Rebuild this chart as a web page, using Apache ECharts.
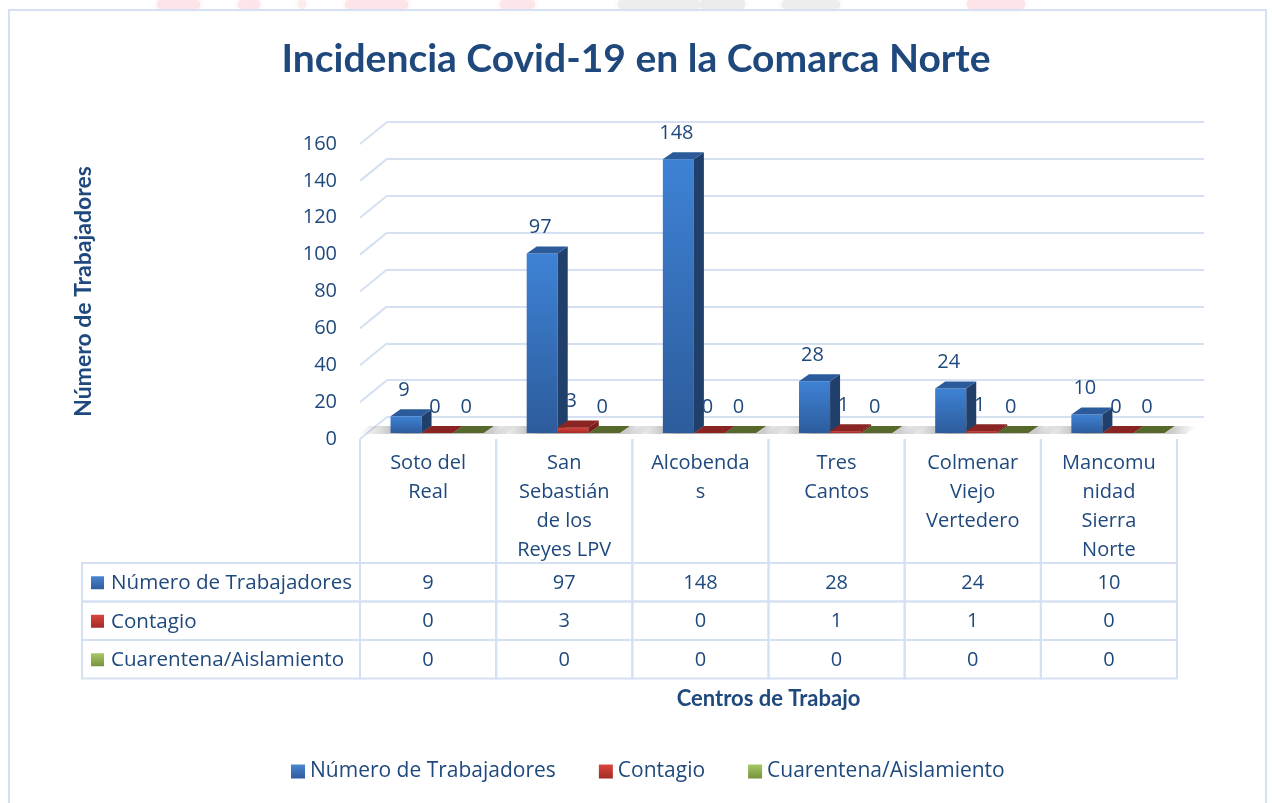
<!DOCTYPE html>
<html>
<head>
<meta charset="utf-8">
<title>Incidencia Covid-19 en la Comarca Norte</title>
<script src="https://cdn.jsdelivr.net/npm/echarts@6.0.0/dist/echarts.min.js"></script>
<style>
html, body { margin: 0; padding: 0; background: #fff; }
#main { width: 1272px; height: 803px; }
</style>
</head>
<body>
<div id="main"></div>
<script>
// datos
var centros = ['Soto del\nReal', 'San\nSebastián\nde los\nReyes LPV', 'Alcobenda\ns', 'Tres\nCantos', 'Colmenar\nViejo\nVertedero', 'Mancomu\nnidad\nSierra\nNorte'];
var trabajadores = [9, 97, 148, 28, 24, 10];
var contagio = [0, 3, 0, 1, 1, 0];
var cuarentena = [0, 0, 0, 0, 0, 0];
var nombres = ['Número de Trabajadores', 'Contagio', 'Cuarentena/Aislamiento'];
var ticksY = [0, 20, 40, 60, 80, 100, 120, 140, 160];

var azul = '#1F497D';
var fuente = '"Open Sans", Lato, sans-serif';
var fuenteB = 'Lato, "Open Sans", sans-serif';
var linea = '#D5E1F2';

// colores de las caras de cada serie
var caras = [
    { front: ['#3E82D5', '#2D5C9C'], side: '#213F6B', top: '#2B5B9A', leg: ['#4A86D0', '#2D5C9C'] },
    { front: ['#D4453C', '#A82B27'], side: '#7A1D1B', top: '#8A2422', leg: ['#D9483F', '#A32A26'] },
    { front: ['#A3C45E', '#76923C'], side: '#4A5D24', top: '#56692B', leg: ['#A6C865', '#77933D'] }
];
var series_datos = [trabajadores, contagio, cuarentena];

function grad(c) {
    return new echarts.graphic.LinearGradient(0, 0, 0, 1, [{ offset: 0, color: c[0] }, { offset: 1, color: c[1] }]);
}

var DX = 10, DY = -7;   // profundidad de las barras

function barra(si) {
    return function (params, api) {
        var c = api.value(0), v = api.value(1);
        var p0 = api.coord([c, 0]), p1 = api.coord([c, v]);
        var banda = api.size([1, 0])[0];
        var bw = banda * 0.228;
        var x0 = p0[0] - 1.5 * bw + si * bw, x1 = x0 + bw;
        var yb = p0[1], yt = p1[1];
        var col = caras[si];
        var kids = [];
        if (yb - yt > 0.5) {
            kids.push({ type: 'rect', shape: { x: x0, y: yt, width: bw, height: yb - yt }, style: { fill: grad(col.front) } });
            kids.push({ type: 'polygon', shape: { points: [[x1, yb], [x1, yt], [x1 + DX, yt + DY], [x1 + DX, yb + DY]] }, style: { fill: col.side } });
        }
        kids.push({ type: 'polygon', shape: { points: [[x0, yt], [x1, yt], [x1 + DX, yt + DY], [x0 + DX, yt + DY]] }, style: { fill: col.top } });
        kids.push({
            type: 'text',
            style: { text: String(v), x: (x0 + x1) / 2 - 2, y: yt + DY - 19, align: 'center', verticalAlign: 'middle', fill: azul, font: '20px ' + fuente }
        });
        return { type: 'group', children: kids };
    };
}

// sombra en el suelo bajo cada grupo
function sombra(params, api) {
    var c = api.value(0);
    var p0 = api.coord([c, 0]);
    var banda = api.size([1, 0])[0];
    var bw = banda * 0.228;
    var xa = p0[0] - 1.5 * bw - 32, xb = p0[0] + 1.5 * bw + 22;
    var yb = p0[1] + 1;
    return {
        type: 'polygon',
        shape: { points: [[xa, yb], [xb, yb], [xb + DX, yb + DY - 1], [xa + DX, yb + DY - 1]] },
        style: {
            fill: new echarts.graphic.LinearGradient(0, 0, 1, 0, [
                { offset: 0, color: 'rgba(140,140,140,0)' },
                { offset: 0.3, color: 'rgba(90,90,90,0.55)' },
                { offset: 0.85, color: 'rgba(110,110,110,0.35)' },
                { offset: 1, color: 'rgba(140,140,140,0)' }
            ])
        }
    };
}

// diagonales de la pared izquierda
function diagonal(params, api) {
    var cs = params.coordSys;
    var y = api.coord([0, api.value(1)])[1];
    return {
        type: 'line',
        shape: { x1: cs.x, y1: y, x2: cs.x + 27, y2: y - 22 },
        style: { stroke: linea, lineWidth: 2 }
    };
}

// tabla de datos
var filasTabla = [];
series_datos.forEach(function (arr, r) {
    arr.forEach(function (v, c) { filasTabla.push([c, r, v]); });
});

function celda(params, api) {
    var c = api.value(0), r = api.value(1), v = api.value(2);
    var cs = params.coordSys;
    var xc = api.coord([c, 0])[0];
    var w = api.size([1, 0])[0];
    var base = cs.y + cs.height;
    var y0 = base + 124 + r * 38.5, h = 38.5;
    var kids = [
        { type: 'rect', shape: { x: xc - w / 2, y: y0, width: w, height: h }, style: { fill: 'none', stroke: linea, lineWidth: 2 } },
        { type: 'text', style: { text: String(v), x: xc, y: y0 + h / 2 + 1, align: 'center', verticalAlign: 'middle', fill: azul, font: '20px ' + fuente } }
    ];
    if (r === 0) {
        kids.push({ type: 'line', shape: { x1: xc - w / 2, y1: base, x2: xc - w / 2, y2: y0 }, style: { stroke: linea, lineWidth: 2 } });
        kids.push({ type: 'line', shape: { x1: xc + w / 2, y1: base, x2: xc + w / 2, y2: y0 }, style: { stroke: linea, lineWidth: 2 } });
    }
    if (c === 0) {
        kids.push({ type: 'rect', shape: { x: 82, y: y0, width: cs.x - 82, height: h }, style: { fill: 'none', stroke: linea, lineWidth: 2 } });
        kids.push({ type: 'rect', shape: { x: 91, y: y0 + h / 2 - 6, width: 13, height: 13 }, style: { fill: grad(caras[r].leg) } });
        kids.push({ type: 'text', style: { text: nombres[r], x: 111, y: y0 + h / 2 + 1, align: 'left', verticalAlign: 'middle', fill: azul, font: '20.6px ' + fuente } });
    }
    return { type: 'group', children: kids };
}

var chart = echarts.init(document.getElementById('main'));

var ejeY = function (extra) {
    return Object.assign({ type: 'value', min: 0, max: 160, interval: 20 }, extra);
};

// restos de la marca de agua sobre el borde
var marcaAgua = [
    [157, 43, '#FDE4E9'], [238, 22, '#FDE4E9'], [298, 8, '#FDEBEE'], [345, 63, '#FDE4E9'],
    [500, 35, '#FDE6EA'], [618, 82, '#EDEDED'], [700, 45, '#EBEBEB'], [782, 58, '#EDEDED'], [967, 58, '#FDE2E7']
];

var option = {
    backgroundColor: '#fff',
    animation: false,
    title: {
        text: 'Incidencia Covid-19 en la Comarca Norte',
        left: 'center', top: 35,
        textStyle: { fontSize: 39, fontWeight: 'bold', color: azul, fontFamily: fuenteB }
    },
    legend: {
        bottom: 16, left: 286,
        icon: 'rect', itemWidth: 14, itemHeight: 14, itemGap: 43,
        textStyle: { fontSize: 21, color: azul, fontFamily: fuente },
        data: nombres
    },
    graphic: marcaAgua.map(function (m) {
        return {
            type: 'rect', shape: { x: m[0], y: 0, width: m[1], height: 9, r: 4 },
            style: { fill: m[2], shadowBlur: 6, shadowColor: m[2] }, z: -2
        };
    }).concat([{
        type: 'rect', shape: { x: 9, y: 10, width: 1257, height: 800 },
        style: { fill: 'none', stroke: linea, lineWidth: 2 }, z: -1
    }]),
    grid: [
        { left: 360, top: 144, width: 817, height: 295 },   // pared frontal (ejes)
        { left: 387, top: 122, width: 817, height: 295 },   // pared del fondo
        { left: 369, top: 137, width: 817, height: 296 }    // plano de las barras
    ],
    xAxis: [
        {
            gridIndex: 0, type: 'category', data: centros,
            axisLine: { show: false }, axisTick: { show: false },
            axisLabel: { interval: 0, margin: 10, lineHeight: 29, verticalAlign: 'top', fontSize: 20, color: azul, fontFamily: fuente },
            name: 'Centros de Trabajo', nameLocation: 'middle', nameGap: 249,
            nameTextStyle: { fontSize: 22, fontWeight: 'bold', color: azul, fontFamily: fuenteB }
        },
        { gridIndex: 1, type: 'category', data: centros, show: false },
        { gridIndex: 2, type: 'category', data: centros, show: false }
    ],
    yAxis: [
        ejeY({
            gridIndex: 0,
            axisLine: { show: false }, axisTick: { show: false }, splitLine: { show: false },
            axisLabel: { margin: 23, fontSize: 20, color: azul, fontFamily: fuente },
            name: 'Número de Trabajadores', nameLocation: 'middle', nameGap: 265,
            nameTextStyle: { fontSize: 23, fontWeight: 'bold', color: azul, fontFamily: fuenteB }
        }),
        ejeY({
            gridIndex: 1,
            axisLine: { show: false }, axisTick: { show: false }, axisLabel: { show: false },
            splitLine: { show: true, lineStyle: { color: linea, width: 2 } }
        }),
        ejeY({ gridIndex: 2, show: false })
    ],
    series: [
        {
            type: 'custom', name: 'diagonales', xAxisIndex: 0, yAxisIndex: 0,
            data: ticksY.map(function (t) { return [0, t]; }),
            renderItem: diagonal, silent: true, z: 1
        },
        {
            type: 'custom', name: 'sombra', xAxisIndex: 2, yAxisIndex: 2,
            data: centros.map(function (n, i) { return [i]; }),
            renderItem: sombra, silent: true, z: 2
        },
        {
            type: 'custom', name: 'tabla', xAxisIndex: 0, yAxisIndex: 0,
            data: filasTabla, renderItem: celda, silent: true, z: 3
        }
    ].concat(series_datos.map(function (arr, si) {
        return {
            type: 'custom', name: nombres[si], xAxisIndex: 2, yAxisIndex: 2,
            itemStyle: { color: grad(caras[si].leg) },
            data: arr.map(function (v, i) { return [i, v]; }),
            renderItem: barra(si), z: 5 + si
        };
    }))
};

chart.setOption(option);
</script>
</body>
</html>
